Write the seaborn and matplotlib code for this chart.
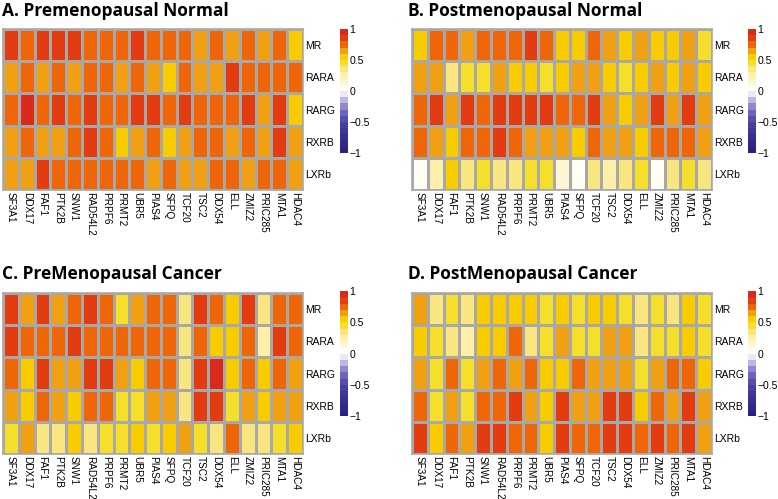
import numpy as np
import pandas as pd
import matplotlib
matplotlib.use('Agg')
import matplotlib.pyplot as plt
from matplotlib.colors import ListedColormap
import seaborn as sns

# Genes (columns) and receptors (rows)
genes = ['SF3A1', 'DDX17', 'FAF1', 'PTK2B', 'SNW1', 'RAD54L2', 'PRPF6', 'PRMT2',
         'UBR5', 'PIAS4', 'SFPQ', 'TCF20', 'TSC2', 'DDX54', 'ELL', 'ZMIZ2',
         'PRIC285', 'MTA1', 'HDAC4']
receptors = ['MR', 'RARA', 'RARG', 'RXRB', 'LXRb']

# correlation values, one row per receptor
pre_normal = [
    [0.85, 0.75, 0.85, 0.85, 0.85, 0.75, 0.75, 0.75, 0.85, 0.75, 0.75, 0.75, 0.65, 0.75, 0.65, 0.75, 0.65, 0.75, 0.55],
    [0.65, 0.75, 0.65, 0.75, 0.65, 0.75, 0.75, 0.65, 0.75, 0.65, 0.55, 0.75, 0.65, 0.65, 0.85, 0.75, 0.75, 0.75, 0.75],
    [0.75, 0.95, 0.75, 0.85, 0.75, 0.85, 0.75, 0.75, 0.85, 0.85, 0.75, 0.85, 0.75, 0.75, 0.75, 0.85, 0.65, 0.85, 0.55],
    [0.65, 0.75, 0.65, 0.65, 0.75, 0.85, 0.75, 0.55, 0.65, 0.75, 0.55, 0.65, 0.75, 0.75, 0.65, 0.75, 0.65, 0.85, 0.65],
    [0.65, 0.65, 0.85, 0.75, 0.75, 0.75, 0.75, 0.75, 0.75, 0.65, 0.75, 0.65, 0.65, 0.75, 0.75, 0.65, 0.75, 0.75, 0.65],
]
post_normal = [
    [0.55, 0.75, 0.75, 0.65, 0.75, 0.75, 0.75, 0.85, 0.75, 0.55, 0.55, 0.75, 0.65, 0.55, 0.65, 0.55, 0.55, 0.65, 0.45],
    [0.65, 0.65, 0.35, 0.45, 0.45, 0.65, 0.55, 0.55, 0.45, 0.55, 0.65, 0.65, 0.55, 0.45, 0.55, 0.65, 0.55, 0.65, 0.55],
    [0.75, 0.85, 0.65, 0.85, 0.75, 0.85, 0.85, 0.85, 0.85, 0.75, 0.75, 0.85, 0.65, 0.55, 0.65, 0.85, 0.65, 0.85, 0.65],
    [0.75, 0.65, 0.55, 0.75, 0.75, 0.85, 0.75, 0.65, 0.65, 0.65, 0.55, 0.75, 0.65, 0.65, 0.55, 0.75, 0.75, 0.75, 0.65],
    [0.05, 0.25, 0.55, 0.35, 0.45, 0.35, 0.35, 0.45, 0.45, 0.15, 0.05, 0.35, 0.25, 0.35, 0.45, 0.05, 0.35, 0.45, 0.35],
]
pre_cancer = [
    [0.85, 0.65, 0.85, 0.65, 0.75, 0.85, 0.75, 0.45, 0.65, 0.75, 0.75, 0.35, 0.85, 0.75, 0.55, 0.85, 0.35, 0.75, 0.75],
    [0.85, 0.75, 0.75, 0.75, 0.85, 0.75, 0.75, 0.75, 0.75, 0.75, 0.75, 0.35, 0.75, 0.55, 0.55, 0.75, 0.25, 0.85, 0.75],
    [0.75, 0.55, 0.85, 0.65, 0.65, 0.85, 0.85, 0.65, 0.55, 0.75, 0.75, 0.35, 0.85, 0.95, 0.55, 0.75, 0.55, 0.75, 0.65],
    [0.65, 0.55, 0.75, 0.65, 0.55, 0.75, 0.75, 0.45, 0.45, 0.65, 0.65, 0.35, 0.85, 0.85, 0.45, 0.65, 0.55, 0.65, 0.65],
    [0.45, 0.65, 0.35, 0.35, 0.55, 0.35, 0.45, 0.45, 0.55, 0.45, 0.55, 0.65, 0.45, 0.35, 0.75, 0.35, 0.35, 0.45, 0.55],
]
post_cancer = [
    [0.65, 0.35, 0.45, 0.35, 0.55, 0.55, 0.55, 0.55, 0.45, 0.55, 0.45, 0.55, 0.55, 0.45, 0.35, 0.45, 0.35, 0.55, 0.45],
    [0.55, 0.45, 0.35, 0.25, 0.55, 0.55, 0.75, 0.35, 0.45, 0.65, 0.45, 0.45, 0.65, 0.65, 0.35, 0.45, 0.45, 0.55, 0.45],
    [0.65, 0.45, 0.75, 0.45, 0.65, 0.75, 0.65, 0.75, 0.55, 0.55, 0.75, 0.65, 0.65, 0.65, 0.45, 0.65, 0.75, 0.75, 0.55],
    [0.75, 0.45, 0.65, 0.45, 0.75, 0.75, 0.85, 0.65, 0.55, 0.85, 0.65, 0.65, 0.85, 0.85, 0.55, 0.75, 0.65, 0.85, 0.65],
    [0.85, 0.55, 0.75, 0.65, 0.85, 0.85, 0.75, 0.75, 0.55, 0.85, 0.75, 0.75, 0.85, 0.85, 0.75, 0.85, 0.75, 0.85, 0.65],
]

panel_titles = ['A. Premenopausal Normal', 'B. Postmenopausal Normal',
                'C. PreMenopausal Cancer', 'D. PostMenopausal Cancer']

# 20 step colour scale from -1 to 1
bin_colors = ['#2a2080', '#302888', '#383090', '#403898', '#4840a0',
              '#5850a8', '#6a64b8', '#9088cc', '#c0b8e4', '#ece8f6',
              '#fffef2', '#fdf6d2', '#fbefaa', '#f9e680', '#f6df2a',
              '#f9cc00', '#f0a010', '#ee6608', '#e23c10', '#da2a1c']
cmap = ListedColormap(bin_colors)

sns.set_style('white')
plt.rcParams['font.family'] = ['Liberation Sans', 'DejaVu Sans']
plt.rcParams['text.color'] = 'black'
plt.rcParams['xtick.color'] = 'black'
plt.rcParams['ytick.color'] = 'black'

W, H = 778, 499
fig = plt.figure(figsize=(W / 100, H / 100), dpi=100)

def box(x0, y0, x1, y1):
    # pixel box (top-left origin) -> figure fraction
    return [x0 / W, 1 - y1 / H, (x1 - x0) / W, (y1 - y0) / H]

layout = [
    # grid box, colorbar box, title position
    ((3, 29, 303, 190), (340, 29, 348, 153), (2, 2)),
    ((412, 29, 712, 190), (748, 29, 756, 153), (408, 2)),
    ((3, 293, 303, 454), (340, 291, 348, 416), (2, 265)),
    ((412, 293, 712, 454), (748, 291, 756, 416), (408, 265)),
]

for data, title, (gbox, cbox, tpos) in zip(
        [pre_normal, post_normal, pre_cancer, post_cancer], panel_titles, layout):
    df = pd.DataFrame(data, index=receptors, columns=genes)
    ax = fig.add_axes(box(*gbox))
    cax = fig.add_axes(box(*cbox))
    sns.heatmap(df, ax=ax, cbar_ax=cax, cmap=cmap, vmin=-1, vmax=1,
                linewidths=0.8, linecolor='#a8a8a8',
                cbar_kws={'ticks': [-1, -0.5, 0, 0.5, 1]})
    # outer border
    for s in ax.spines.values():
        s.set_visible(True)
        s.set_color('#a8a8a8')
        s.set_linewidth(1.2)
    ax.yaxis.tick_right()
    ax.set_yticklabels(receptors, rotation=0, fontsize=7.5)
    ax.set_xticklabels(genes, rotation=270, fontsize=7.2, va='top', ha='center')
    ax.tick_params(length=0, pad=1.5)
    ax.set_xlabel('')
    ax.set_ylabel('')
    cax.tick_params(length=0, labelsize=7.5, pad=1)
    cax.set_yticklabels(['\u22121', '\u22120.5', '0', '0.5', '1'])
    cb = ax.collections[0].colorbar
    cb.outline.set_visible(False)
    fig.text(tpos[0] / W, 1 - tpos[1] / H, title, fontsize=12.5,
             fontweight='bold', family=['Open Sans', 'DejaVu Sans'],
             va='top', ha='left')

fig.savefig('out.png', dpi=100)
